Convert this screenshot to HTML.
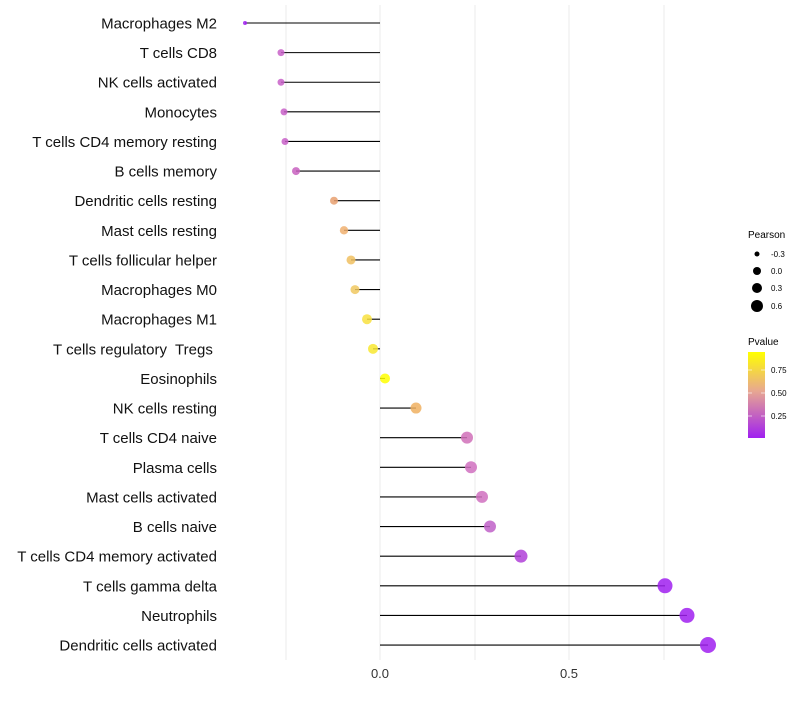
<!DOCTYPE html><html><head><style>body{margin:0;background:#fff}</style></head><body>
<svg width="800" height="700" xmlns="http://www.w3.org/2000/svg" font-family="Liberation Sans, sans-serif">
<g stroke="#ebebeb" stroke-width="1">
<line x1="286" y1="5" x2="286" y2="660"/><line x1="380" y1="5" x2="380" y2="660"/><line x1="475" y1="5" x2="475" y2="660"/><line x1="569" y1="5" x2="569" y2="660"/><line x1="664" y1="5" x2="664" y2="660"/>
</g>
<g id="d"></g>
<g font-size="13" fill="#333" text-anchor="middle"><text x="380" y="678">0.0</text><text x="569" y="678">0.5</text></g>
<g font-size="10" fill="#000"><text x="748" y="238">Pearson</text>
<circle cx="757" cy="254" r="2.5"/><circle cx="757" cy="271" r="4"/><circle cx="757" cy="288" r="5"/><circle cx="757" cy="306" r="6"/>
<g font-size="8"><text x="771" y="257">-0.3</text><text x="771" y="274">0.0</text><text x="771" y="291">0.3</text><text x="771" y="309">0.6</text></g>
<text x="748" y="345">Pvalue</text>
<defs><linearGradient id="g" x1="0" y1="0" x2="0" y2="1"><stop offset="0" stop-color="#ffff00"/><stop offset="0.45" stop-color="#e8a890"/><stop offset="1" stop-color="#a020f0"/></linearGradient></defs>
<rect x="748" y="352" width="17" height="86" fill="url(#g)"/>
<g stroke="#fff" stroke-opacity="0.6"><line x1="748" y1="370" x2="752" y2="370"/><line x1="761" y1="370" x2="765" y2="370"/><line x1="748" y1="393" x2="752" y2="393"/><line x1="761" y1="393" x2="765" y2="393"/><line x1="748" y1="416" x2="752" y2="416"/><line x1="761" y1="416" x2="765" y2="416"/></g>
<g font-size="8"><text x="771" y="373">0.75</text><text x="771" y="396">0.50</text><text x="771" y="419">0.25</text></g>
</g>
</svg>
<script>
var d=[["Macrophages M2",245,2,"#a020f0"],["T cells CD8",281,3.5,"#c860c8"],["NK cells activated",281,3.5,"#c860c8"],["Monocytes",284,3.5,"#c860c8"],["T cells CD4 memory resting",285,3.5,"#c860c8"],["B cells memory",296,4,"#c860c0"],["Dendritic cells resting",334,4,"#e8a070"],["Mast cells resting",344,4.2,"#f0b070"],["T cells follicular helper",351,4.5,"#f0c060"],["Macrophages M0",355,4.5,"#f0c860"],["Macrophages M1",367,5,"#f8e040"],["T cells regulatory  Tregs ",373,5,"#f8e830"],["Eosinophils",385,5,"#ffff00"],["NK cells resting",416,5.5,"#f0b060"],["T cells CD4 naive",467,6,"#d070b8"],["Plasma cells",471,6,"#d070c0"],["Mast cells activated",482,6,"#d070c0"],["B cells naive",490,6,"#c060c8"],["T cells CD4 memory activated",521,6.5,"#b040d8"],["T cells gamma delta",665,7.5,"#a020f0"],["Neutrophils",687,7.5,"#a020f0"],["Dendritic cells activated",708,8,"#a020f0"]];
var s="";d.forEach(function(r,i){var y=23+i*29.62;
s+='<line x1="380" y1="'+y+'" x2="'+r[1]+'" y2="'+y+'" stroke="#000" stroke-width="1.1"/>';
s+='<circle cx="'+r[1]+'" cy="'+y+'" r="'+r[2]+'" fill="'+r[3]+'" fill-opacity="0.85"/>';
s+='<text x="217" y="'+(y+5.5)+'" text-anchor="end" font-size="15" fill="#111" xml:space="preserve">'+r[0]+'</text>';});
document.getElementById("d").innerHTML=s;
</script>
</body></html>
